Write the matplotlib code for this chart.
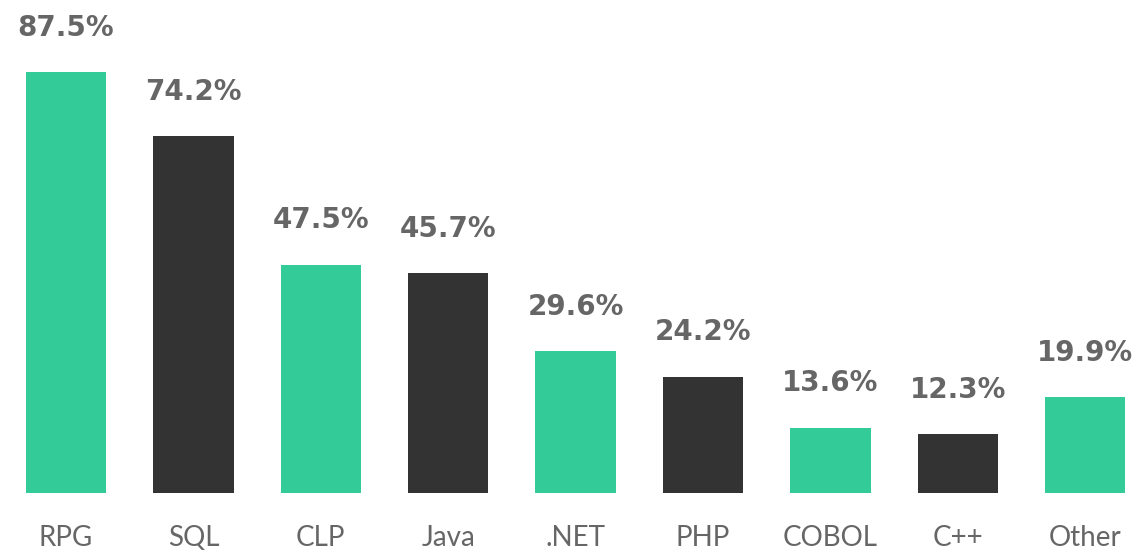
import matplotlib
matplotlib.use("Agg")
import matplotlib.pyplot as plt

categories = ["RPG", "SQL", "CLP", "Java", ".NET", "PHP", "COBOL", "C++", "Other"]
values = [87.5, 74.2, 47.5, 45.7, 29.6, 24.2, 13.6, 12.3, 19.9]
value_labels = ["87.5%", "74.2%", "47.5%", "45.7%", "29.6%", "24.2%", "13.6%", "12.3%", "19.9%"]

GREEN = "#33CC99"
DARK = "#333333"
colors = [GREEN if i % 2 == 0 else DARK for i in range(len(categories))]

fig = plt.figure(figsize=(11.39, 5.52), dpi=100)
ax = fig.add_axes([0, 59 / 552, 1, 493 / 552])

x = list(range(len(categories)))
bars = ax.bar(x, values, width=0.63, color=colors)

for xi, v, lab in zip(x, values, value_labels):
    ax.annotate(lab, (xi, v), xytext=(0, 26), textcoords="offset points",
                ha="center", va="baseline", fontsize=20, fontweight="bold",
                color="#666666", family=["DejaVu Sans"])

ax.set_xlim(-0.518, 8.422)
ax.set_ylim(0, 102.5)
ax.set_xticks(x)
ax.set_xticklabels(categories, fontsize=20, color="#666666", family=["Lato", "DejaVu Sans"])
ax.tick_params(axis="x", length=0, pad=23)
ax.set_yticks([])
for s in ax.spines.values():
    s.set_visible(False)

fig.savefig("out.png", dpi=100)
